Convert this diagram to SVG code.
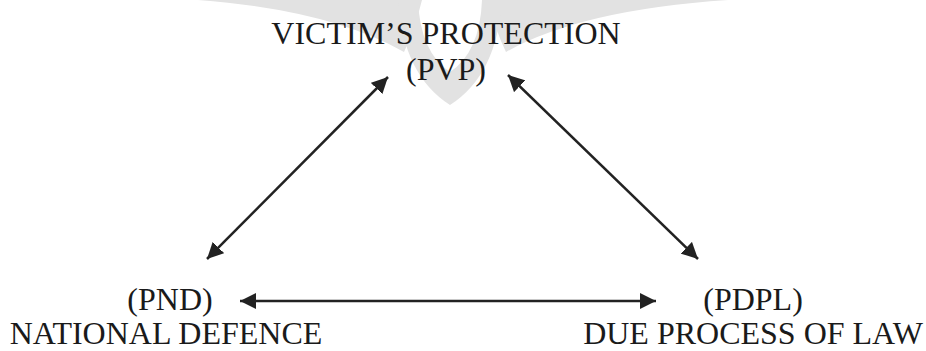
<svg xmlns="http://www.w3.org/2000/svg" width="926" height="351" viewBox="0 0 926 351">
  <style>
    .t { font-family: "Liberation Serif", "Times New Roman", serif; font-size: 32px; fill: #1a1a1a; text-anchor: middle; }
    .c { stroke: #222; stroke-width: 2.5; fill: none; marker-start: url(#ah); marker-end: url(#ah); }
    .wm { fill: #e2e2e2; stroke: none; }
  </style>
  <defs>
    <marker id="ah" viewBox="0 0 10 10" refX="10" refY="5" markerWidth="6.5" markerHeight="6.5" markerUnits="strokeWidth" orient="auto-start-reverse">
      <path d="M0,0 L10,5 L0,10 Z" fill="#222"/>
    </marker>
  </defs>
  <rect width="926" height="351" fill="#fff"/>
  <g id="watermark">
    <path class="wm" d="M198,0 L422,0 Q414,32 404,52 Q330,10 198,0 Z"/>
    <path class="wm" d="M728,0 L488,0 Q496,32 506,52 Q580,10 728,0 Z"/>
    <path class="wm" d="M398,0 Q403,75 450,105 Q497,75 502,0 L482,0 Q480,52 450,72 Q420,52 418,0 Z"/>
  </g>
  <g id="pvp">
    <text class="t" x="446" y="44">VICTIM’S PROTECTION</text>
    <text class="t" x="446" y="80">(PVP)</text>
  </g>
  <g id="pnd">
    <text class="t" x="170" y="310">(PND)</text>
    <text class="t" x="166" y="344">NATIONAL DEFENCE</text>
  </g>
  <g id="pdpl">
    <text class="t" x="753" y="310">(PDPL)</text>
    <text class="t" x="753" y="344">DUE PROCESS OF LAW</text>
  </g>
  <g id="connectors">
    <line class="c" x1="388" y1="77" x2="207" y2="259"/>
    <line class="c" x1="508" y1="75" x2="698" y2="259"/>
    <line class="c" x1="240" y1="301" x2="656" y2="301"/>
  </g>
</svg>
